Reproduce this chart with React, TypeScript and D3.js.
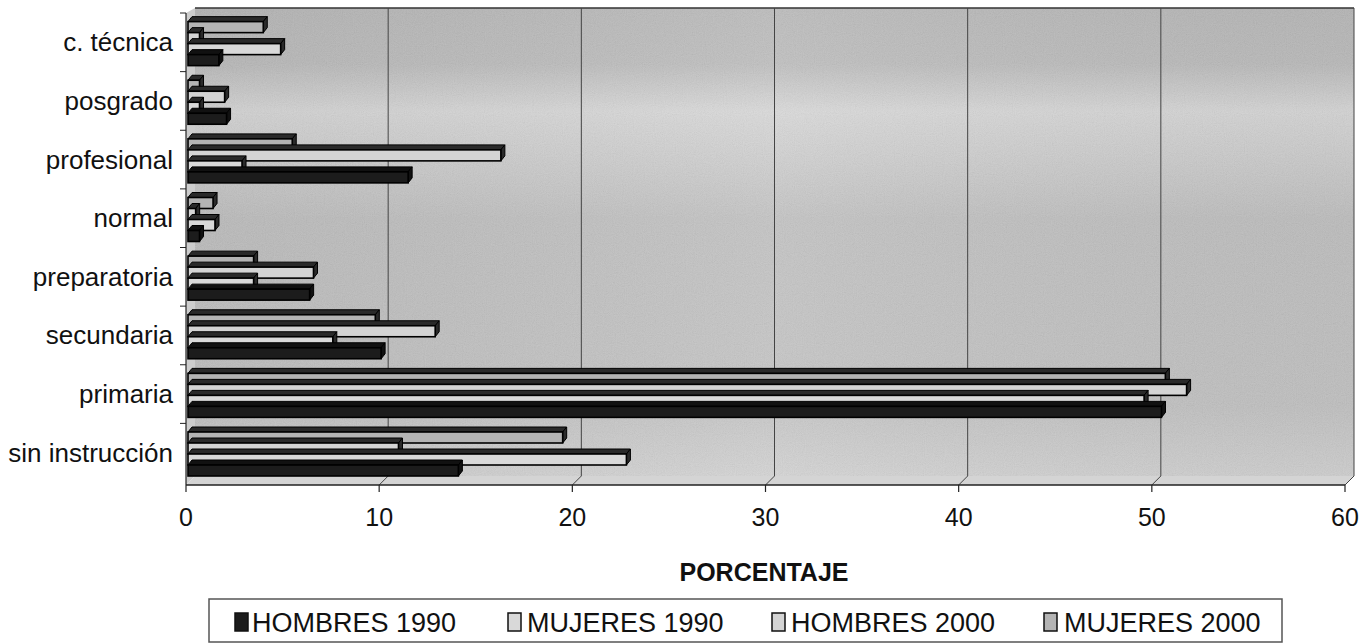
import React from "react";
import * as d3 from "d3";

// Education level categories, listed bottom to top
const categories = [
  "sin instrucción",
  "primaria",
  "secundaria",
  "preparatoria",
  "normal",
  "profesional",
  "posgrado",
  "c. técnica",
];

// Percentages per series, same order as categories
const hombres1990 = [14.1, 50.5, 10.1, 6.4, 0.7, 11.5, 2.1, 1.7];
const mujeres1990 = [22.8, 49.6, 7.6, 3.5, 1.5, 2.9, 0.7, 4.9];
const hombres2000 = [11.0, 51.8, 12.9, 6.6, 0.5, 16.3, 2.0, 0.7];
const mujeres2000 = [19.5, 50.7, 9.8, 3.5, 1.4, 5.5, 0.7, 4.0];

const seriesNames = ["HOMBRES 1990", "MUJERES 1990", "HOMBRES 2000", "MUJERES 2000"];
const seriesValues = [hombres1990, mujeres1990, hombres2000, mujeres2000];
const xTicks = [0, 10, 20, 30, 40, 50, 60];

const W = 1372;
const H = 644;
const FONT = "'Liberation Sans', Arial, sans-serif";

// front face fills and top/side shading per series
const fills = ["#1c1c1c", "#d9d9d9", "#d4d4d4", "#b4b4b4"];
const tops = ["#111", "#2a2a2a", "#2a2a2a", "#2a2a2a"];

export default function App() {
  const x = d3.scaleLinear().domain([0, 60]).range([186, 1345]);
  const y = d3.scaleBand<string>().domain(categories).range([482, 13]);
  const bw = y.bandwidth();

  // depth of the chart box and of each bar
  const DX = 9;
  const DY = -6;
  const bdx = 4;
  const bdy = -5;
  const barH = 11;
  const floorFront = 485;

  const wallTop = 13 + DY + 1;
  const wallBottom = floorFront + DY - 3;

  const bars: JSX.Element[] = [];
  categories.forEach((cat, ci) => {
    const bandTop = y(cat)!;
    const clusterBottom = bandTop + bw - 6;
    // top series sits behind, bottom series in front
    for (let si = seriesValues.length - 1; si >= 0; si--) {
      const v = seriesValues[si][ci];
      const y1 = clusterBottom - (si + 1) * barH;
      const x0 = x(0) + 2;
      const x1 = x(v);
      const topFace = `M${x0},${y1} L${x0 + bdx},${y1 + bdy} L${x1 + bdx},${y1 + bdy} L${x1},${y1} Z`;
      const sideFace = `M${x1},${y1} L${x1 + bdx},${y1 + bdy} L${x1 + bdx},${y1 + barH + bdy} L${x1},${y1 + barH} Z`;
      bars.push(
        <g key={`${ci}-${si}`}>
          <path d={topFace} fill={tops[si]} stroke="#000" strokeWidth={1} />
          <path d={sideFace} fill={tops[si]} stroke="#000" strokeWidth={1} />
          <rect
            x={x0}
            y={y1}
            width={Math.max(0, x1 - x0)}
            height={barH}
            fill={fills[si]}
            stroke="#000"
            strokeWidth={1.6}
          />
        </g>
      );
    }
  });

  const legendSwatchX = [235, 508, 772, 1044];
  const legendTextX = [252, 527, 791, 1064];

  const wallX = x(0) + DX;
  const wallW = x(60) - x(0);

  return (
    <svg
      width={W}
      height={H}
      style={{ position: "absolute", left: 0, top: 0, background: "#fff" }}
      fontFamily={FONT}
    >
      <defs>
        <linearGradient id="wallShade" x1="0" y1="0" x2="0" y2="1">
          <stop offset="0" stopColor="#b8b8b8" />
          <stop offset="0.12" stopColor="#bcbcbc" />
          <stop offset="0.22" stopColor="#d8d8d8" />
          <stop offset="0.32" stopColor="#cecece" />
          <stop offset="0.45" stopColor="#c0c0c0" />
          <stop offset="0.85" stopColor="#c3c3c3" />
          <stop offset="1" stopColor="#d2d2d2" />
        </linearGradient>
        <linearGradient id="wallSide" x1="0" y1="0" x2="1" y2="0">
          <stop offset="0" stopColor="#000" stopOpacity={0.04} />
          <stop offset="0.5" stopColor="#fff" stopOpacity={0.06} />
          <stop offset="1" stopColor="#000" stopOpacity={0.03} />
        </linearGradient>
        <filter id="grain" x="0" y="0" width="100%" height="100%">
          <feTurbulence type="fractalNoise" baseFrequency="0.9" numOctaves={2} seed={3} />
          <feColorMatrix type="saturate" values="0" />
          <feComponentTransfer>
            <feFuncA type="linear" slope="0" intercept="0.12" />
          </feComponentTransfer>
        </filter>
      </defs>

      {/* back wall */}
      <rect x={wallX} y={wallTop} width={wallW} height={wallBottom - wallTop} fill="url(#wallShade)" />
      <rect x={wallX} y={wallTop} width={wallW} height={wallBottom - wallTop} fill="url(#wallSide)" />
      <rect x={wallX} y={wallTop} width={wallW} height={wallBottom - wallTop} filter="url(#grain)" />
      <line x1={wallX} x2={x(60) + DX} y1={wallTop} y2={wallTop} stroke="#333" strokeWidth={1.5} />
      {/* left wall */}
      <path
        d={`M${x(0)},${13} L${x(0) + DX},${wallTop} L${x(0) + DX},${wallBottom} L${x(0)},${floorFront} Z`}
        fill="#cdcdcd"
      />
      {/* floor */}
      <path
        d={`M${x(0)},${floorFront} L${x(0) + DX},${wallBottom} L${x(60) + DX},${wallBottom} L${x(60)},${floorFront} Z`}
        fill="#d4d4d4"
      />

      {/* gridlines on wall and floor */}
      {xTicks.slice(1).map((t) => (
        <g key={`g${t}`}>
          <line x1={x(t) + DX} x2={x(t) + DX} y1={wallTop} y2={wallBottom} stroke="#444" strokeWidth={1} />
          <line x1={x(t) + DX} x2={x(t)} y1={wallBottom} y2={floorFront} stroke="#444" strokeWidth={1} />
        </g>
      ))}

      {bars}

      {/* value axis */}
      <line x1={x(0)} x2={x(60)} y1={floorFront} y2={floorFront} stroke="#222" strokeWidth={1.5} />
      {xTicks.map((t) => (
        <g key={`t${t}`}>
          <line x1={x(t)} x2={x(t)} y1={floorFront} y2={floorFront + 7} stroke="#222" strokeWidth={1.2} />
          <text x={x(t)} y={526} textAnchor="middle" fontSize={25} fill="#111">
            {t}
          </text>
        </g>
      ))}

      {/* category axis */}
      <line x1={x(0)} x2={x(0)} y1={13} y2={floorFront} stroke="#222" strokeWidth={1.2} />
      {categories.map((c) => (
        <g key={c}>
          <line x1={x(0) - 6} x2={x(0)} y1={y(c)!} y2={y(c)!} stroke="#222" strokeWidth={1} />
          <text x={173} y={y(c)! + bw / 2 + 9} textAnchor="end" fontSize={26} fill="#111">
            {c}
          </text>
        </g>
      ))}

      <text x={764} y={581} textAnchor="middle" fontSize={25} fontWeight="bold" fill="#111">
        PORCENTAJE
      </text>

      {/* legend */}
      <rect x={209} y={599} width={1073} height={43} fill="#fff" stroke="#555" strokeWidth={1.5} />
      {seriesNames.map((name, i) => (
        <g key={name}>
          <rect
            x={legendSwatchX[i]}
            y={613}
            width={13}
            height={18}
            fill={fills[i]}
            stroke="#111"
            strokeWidth={1.5}
          />
          <text x={legendTextX[i]} y={632} fontSize={27} fill="#111">
            {name}
          </text>
        </g>
      ))}
    </svg>
  );
}
